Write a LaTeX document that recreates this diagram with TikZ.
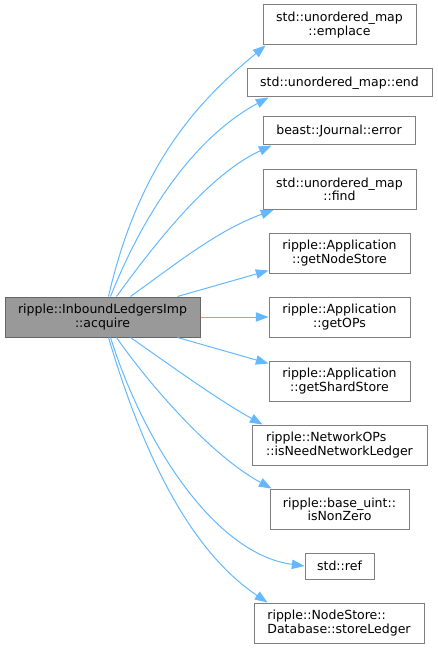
\documentclass[tikz,border=0pt]{standalone}
\usepackage{fontspec}
\setmainfont{DejaVu Sans}
\usetikzlibrary{arrows.meta}

\definecolor{edgeblue}{HTML}{63B8FF}
\definecolor{mainfill}{HTML}{999999}
\definecolor{mainline}{HTML}{666666}
\definecolor{boxline}{HTML}{7F7F7F}

\tikzset{
  fnbox/.style={draw=boxline, fill=white, line width=0.75pt, inner sep=0pt,
    align=center, font=\fontsize{9.4}{10}\selectfont, minimum height=30pt},
  mainbox/.style={fnbox, draw=mainline, fill=mainfill},
  callarrow/.style={draw=edgeblue, line width=0.75pt,
    -{Triangle[length=9.5pt,width=7pt]}}
}

\begin{document}
\begin{tikzpicture}[x=0.75pt,y=-0.75pt]
\useasboundingbox (0,0) rectangle (437,649);

\node[mainbox, minimum width=146.25pt] (acquire) at (102.5,317)
  {ripple::InboundLedgersImp\\::acquire};

\node[fnbox, minimum width=114.75pt] (emplace) at (339.5,25)
  {std::unordered\_map\\::emplace};
\node[fnbox, minimum width=138.75pt, minimum height=21pt] (mapend) at (339.5,83)
  {std::unordered\_map::end};
\node[fnbox, minimum width=114pt, minimum height=21pt] (jerror) at (339,131)
  {beast::Journal::error};
\node[fnbox, minimum width=114.75pt] (find) at (339.5,189.5)
  {std::unordered\_map\\::find};
\node[fnbox, minimum width=105.75pt] (nodestore) at (339.5,253)
  {ripple::Application\\::getNodeStore};
\node[fnbox, minimum width=105.75pt] (getops) at (339.5,317)
  {ripple::Application\\::getOPs};
\node[fnbox, minimum width=105.75pt] (shardstore) at (339.5,381)
  {ripple::Application\\::getShardStore};
\node[fnbox, minimum width=131.25pt, align=left] (needledger) at (339.5,445)
  {ripple::NetworkOPs\\::isNeedNetworkLedger};
\node[fnbox, minimum width=104.25pt] (nonzero) at (339.5,509)
  {ripple::base\_uint::\\isNonZero};
\node[fnbox, minimum width=51.75pt, minimum height=19.5pt] (stdref) at (339.5,566)
  {std::ref};
\node[fnbox, minimum width=127.5pt, align=left] (storeledger) at (339,623)
  {ripple::NodeStore::\\Database::storeLedger};

% calls leaving the top
\draw[callarrow] ([xshift=78pt]acquire.north west)
  .. controls +(32,-140) and +(-60,50) .. ([xshift=2.25pt]emplace.south west);
\draw[callarrow] ([xshift=79.5pt]acquire.north west)
  .. controls +(40,-100) and +(-65,35) .. ([xshift=16.5pt]mapend.south west);
\draw[callarrow] ([xshift=84pt]acquire.north west)
  .. controls +(45,-62) and +(-60,28) .. ([xshift=6.75pt]jerror.south west);
\draw[callarrow] ([xshift=94.5pt]acquire.north west)
  .. controls +(50,-36) and +(-55,20) .. ([xshift=8.25pt]find.south west);
\draw[callarrow] ([xshift=129.75pt]acquire.north west)
  -- ([yshift=2.25pt]nodestore.south west);

\draw[callarrow] (acquire.east) -- (getops.west);

% calls leaving the bottom
\draw[callarrow] ([xshift=129.75pt]acquire.south west)
  -- ([yshift=-2.25pt]shardstore.north west);
\draw[callarrow] ([xshift=94.5pt]acquire.south west)
  .. controls +(40,28) and +(-45,-25) .. ([xshift=8.25pt]needledger.north west);
\draw[callarrow] ([xshift=84pt]acquire.south west)
  .. controls +(35,50) and +(-60,-33) .. ([xshift=1.5pt]nonzero.north west);
\draw[callarrow] ([xshift=79.5pt]acquire.south west)
  .. controls +(33,105) and +(-90,-12) .. (stdref.west);
\draw[callarrow] ([xshift=78pt]acquire.south west)
  .. controls +(40,135) and +(-70,-47) .. ([xshift=10.5pt]storeledger.north west);
\end{tikzpicture}
\end{document}
